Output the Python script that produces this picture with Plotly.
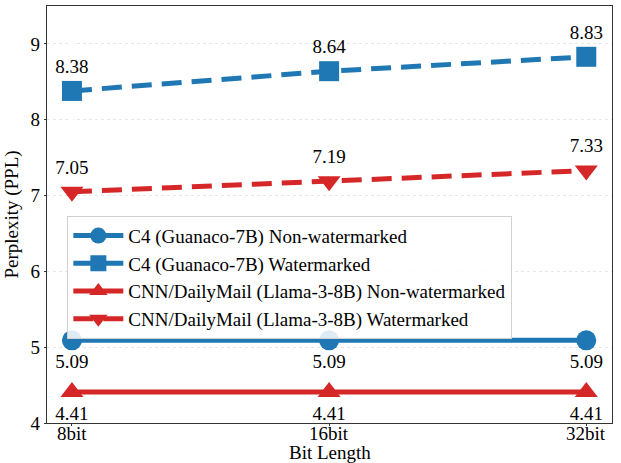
import plotly.graph_objects as go

categories = ["8bit", "16bit", "32bit"]
c4_non = [5.09, 5.09, 5.09]
c4_wm = [8.38, 8.64, 8.83]
cnn_non = [4.41, 4.41, 4.41]
cnn_wm = [7.05, 7.19, 7.33]
y_ticks = [4, 5, 6, 7, 8, 9]

BLUE = "#1f77b4"
RED = "#d62728"
FONT = "Liberation Serif"
FS = 19

x = list(range(len(categories)))

def fmt(v):
    return [f"{a:.2f}" for a in v]

fig = go.Figure()
specs = [
    (c4_non, "C4 (Guanaco-7B) Non-watermarked", BLUE, "solid", "circle", "bottom center"),
    (c4_wm, "C4 (Guanaco-7B) Watermarked", BLUE, "20px,10px", "square", "top center"),
    (cnn_non, "CNN/DailyMail (Llama-3-8B) Non-watermarked", RED, "solid", "triangle-up", "bottom center"),
    (cnn_wm, "CNN/DailyMail (Llama-3-8B) Watermarked", RED, "20px,10px", "triangle-down", "top center"),
]
for ys, name, col, dash, sym, tp in specs:
    fig.add_trace(go.Scatter(
        x=x, y=ys, name=name,
        mode="lines+markers+text", text=fmt(ys), textposition=tp,
        line=dict(color=col, width=5, dash=dash),
        marker=dict(symbol=sym, size=20, color=col),
        textfont=dict(size=FS, color="black", family=FONT),
    ))

annotations = [dict(
    text=lab, x=xi, xref="x", y=-0.024, yref="paper",
    xanchor="center", yanchor="middle", showarrow=False,
    font=dict(size=FS, family=FONT),
) for xi, lab in zip(x, categories)]
annotations.append(dict(
    text="Bit Length", x=0.5, xref="paper", y=-0.07, yref="paper",
    xanchor="center", yanchor="middle", showarrow=False,
    font=dict(size=FS, family=FONT),
))

fig.update_layout(
    width=621, height=463,
    margin=dict(l=47, r=9, t=6, b=40),
    paper_bgcolor="white", plot_bgcolor="white",
    font=dict(family=FONT, size=FS, color="black"),
    legend=dict(
        x=0.036, y=0.497, xanchor="left", yanchor="top",
        bgcolor="rgba(255,255,255,0.85)", bordercolor="#d0d0d0", borderwidth=1,
        font=dict(size=FS, family=FONT), itemwidth=50,
    ),
    xaxis=dict(
        tickmode="array", tickvals=x, showticklabels=False,
        range=[-0.097, 2.1], showgrid=False, automargin=False,
        showline=True, linecolor="#333", linewidth=1.2, mirror=True,
        ticks="outside", ticklen=2, tickcolor="#333",
    ),
    yaxis=dict(
        range=[4, 9.5], tickvals=y_ticks, automargin=False,
        showgrid=True, gridcolor="#e6e6e6", griddash="dot", gridwidth=1,
        showline=True, linecolor="#333", linewidth=1.2, mirror=True,
        ticks="outside", ticklen=2, tickcolor="#333", zeroline=False,
        tickfont=dict(family=FONT, size=FS),
        title=dict(text="Perplexity (PPL)", font=dict(size=FS, family=FONT), standoff=6),
    ),
    annotations=annotations,
)

fig.write_html("out.html", config={"displayModeBar": False},
               post_script="document.body.style.margin='0';document.body.style.padding='0';")
